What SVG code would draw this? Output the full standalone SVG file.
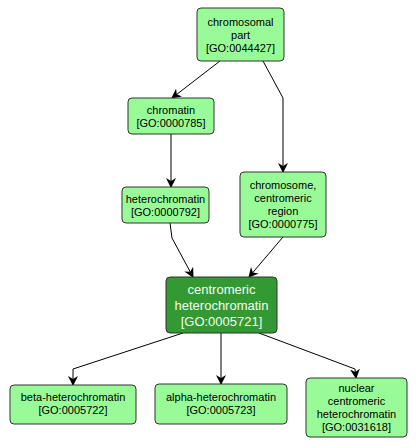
<svg xmlns="http://www.w3.org/2000/svg" width="416" height="448" viewBox="0 0 416 448">
<defs>
<style>
.n rect{fill:#98fb98;stroke:#333;stroke-width:1}
.n text{font-family:"Liberation Sans",Arial,sans-serif;font-size:11px;fill:#000;text-anchor:middle}
.c rect{fill:#339933;stroke:#333;stroke-width:1}
.c text{font-family:"Liberation Sans",Arial,sans-serif;font-size:13px;fill:#eeffee;text-anchor:middle}
.e{fill:none;stroke:#000;stroke-width:1;marker-end:url(#a)}
</style>
<marker id="a" markerWidth="10" markerHeight="10" refX="9" refY="5" orient="auto" markerUnits="userSpaceOnUse">
<path d="M0,0 L10,5 L0,10 L3,5 z" fill="#000"/>
</marker>
</defs>
<rect width="416" height="448" fill="#fff"/>
<g id="connectors">
<path class="e" d="M220,61 L172,98"/>
<path class="e" d="M263,61 L283,98 L283,172"/>
<path class="e" d="M171,134 L171,187"/>
<path class="e" d="M170,223 L172,238 L193,277"/>
<path class="e" d="M283,237 L249,277"/>
<path class="e" d="M183,333 L73,369 L73,385"/>
<path class="e" d="M221,333 L221,384"/>
<path class="e" d="M259,333 L355,369 L356,378"/>
</g>
<g id="GO0044427" class="n"><rect x="197" y="8" width="87" height="53" rx="4"/><text x="240.5" y="25.5">chromosomal</text><text x="240.5" y="38.5">part</text><text x="240.5" y="51.5">[GO:0044427]</text></g>
<g id="GO0000785" class="n"><rect x="128" y="98" width="86" height="36" rx="4"/><text x="171" y="113.5">chromatin</text><text x="171" y="126.5">[GO:0000785]</text></g>
<g id="GO0000792" class="n"><rect x="122" y="187" width="87" height="36" rx="4"/><text x="165.5" y="202.5">heterochromatin</text><text x="165.5" y="215.5">[GO:0000792]</text></g>
<g id="GO0000775" class="n"><rect x="240" y="172" width="86" height="65" rx="4"/><text x="283" y="189">chromosome,</text><text x="283" y="202">centromeric</text><text x="283" y="215">region</text><text x="283" y="228">[GO:0000775]</text></g>
<g id="GO0005721" class="c"><rect x="166" y="277" width="111" height="56" rx="4"/><text x="221.5" y="294">centromeric</text><text x="221.5" y="310">heterochromatin</text><text x="221.5" y="326">[GO:0005721]</text></g>
<g id="GO0005722" class="n"><rect x="10" y="385" width="126" height="39" rx="4"/><text x="73" y="401">beta-heterochromatin</text><text x="73" y="414">[GO:0005722]</text></g>
<g id="GO0005723" class="n"><rect x="155" y="384" width="132" height="40" rx="4"/><text x="221" y="400.5">alpha-heterochromatin</text><text x="221" y="413.5">[GO:0005723]</text></g>
<g id="GO0031618" class="n"><rect x="306" y="378" width="101" height="59" rx="4"/><text x="356.5" y="392">nuclear</text><text x="356.5" y="405">centromeric</text><text x="356.5" y="418">heterochromatin</text><text x="356.5" y="431">[GO:0031618]</text></g>
</svg>
